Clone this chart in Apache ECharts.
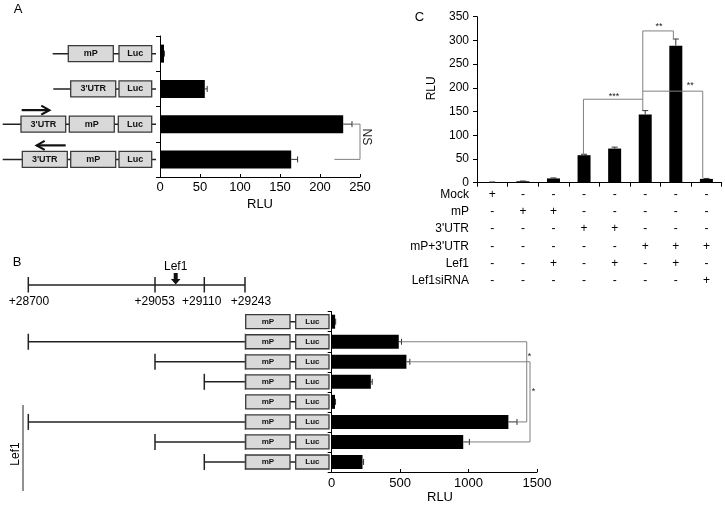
<!DOCTYPE html>
<html><head><meta charset="utf-8">
<script src="https://cdn.jsdelivr.net/npm/echarts@6/dist/echarts.min.js"></script>
<style>html,body{margin:0;padding:0;background:#fff}#c{width:725px;height:508px}</style>
</head><body><div id="c"></div>
<script>
// ---------------- DATA ----------------
// Panel A
const catsA = ['mP-Luc', "3'UTR-Luc", "3'UTR(sense)-mP-Luc", "3'UTR(antisense)-mP-Luc"];
const valuesA = [5, 56, 229, 164];
const errorsA = [0.5, 3, 11, 8];
const ticksA = [0, 50, 100, 150, 200, 250];
const constructsA = [['mP', 'Luc'], ["3'UTR", 'Luc'], ["3'UTR", 'mP', 'Luc'], ["3'UTR", 'mP', 'Luc']];
const arrowsA = [0, 0, 1, -1];              // 1 = sense, -1 = antisense
const bracketsA = [{ pts: [[240, 2], [250, 2], [250, 3], [218, 3]], label: 'NS', at: [258, 2.36], rot: -Math.PI / 2 }];

// Panel B
const catsB = ['b1', 'b2', 'b3', 'b4', 'b5', 'b6', 'b7', 'b8'];
const valuesB = [25, 490, 546, 286, 24, 1291, 961, 225];
const errorsB = [4, 20, 25, 10, 4, 63, 45, 8];
const ticksB = [0, 500, 1000, 1500];
const scaleLabelsB = ['+28700', '+29053', '+29110', '+29243'];
const startsB = [-1, 0, 1, 2, -1, 0, 1, 2];  // index into scaleLabelsB, -1 = promoter only
const bracketsB = [
  { pts: [[510, 1], [1425, 1], [1425, 5], [1355, 5]], label: '*', at: [1445, 1.72] },
  { pts: [[572, 2], [1449, 2], [1449, 6], [1007, 6]], label: '*', at: [1474, 3.5] }
];

// Panel C
const catsC = ['c1', 'c2', 'c3', 'c4', 'c5', 'c6', 'c7', 'c8'];
const valuesC = [1, 3, 9, 58, 72, 144, 289, 8];
const errorsC = [0.5, 0.5, 1, 2, 3, 8, 14, 1];
const ticksC = [0, 50, 100, 150, 200, 250, 300, 350];
const rowNamesC = ['Mock', 'mP', "3'UTR", "mP+3'UTR", 'Lef1', 'Lef1siRNA'];
const tableC = [
  ['+', '-', '-', '-', '-', '-', '-', '-'],
  ['-', '+', '+', '-', '-', '-', '-', '-'],
  ['-', '-', '-', '+', '+', '-', '-', '-'],
  ['-', '-', '-', '-', '-', '+', '+', '+'],
  ['-', '-', '+', '-', '+', '-', '+', '-'],
  ['-', '-', '-', '-', '-', '-', '-', '+']
];
const bracketsC = [
  { pts: [[2.98, 58], [2.98, 176], [4.92, 176]], label: '***', at: [3.98, 182] },
  { pts: [[4.92, 153], [4.92, 320], [5.92, 320], [5.92, 304]], label: '**', at: [5.45, 330] },
  { pts: [[4.92, 193], [6.88, 193], [6.88, 9]], label: '**', at: [6.47, 205] }
];

// ---------------- LAYOUT ----------------
const FONT = '"Liberation Sans", Arial, sans-serif';
const G = {
  A: { left: 160, top: 36, width: 200, height: 141 },
  B: { left: 331.7, top: 311.7, width: 205.3, height: 160.3 },
  C: { left: 477, top: 16.7, width: 244.7, height: 166 }
};
// pixel layouts of the schematic constructs of panel A
const layoutA = [
  { start: 52.7, boxes: [[68.3, 113.3], [119, 151.7]] },
  { start: 53.3, boxes: [[70.7, 115.7], [119, 151.7]] },
  { start: 2.7, boxes: [[21, 65.7], [69.3, 114.3], [118.3, 151.7]] },
  { start: 2.7, boxes: [[22.3, 67.3], [70.7, 115.7], [119, 151.7]] }
];
const arrowLayoutA = { right: [21.7, 49.3], left: [65.7, 36.7], dy: -14 };
const scaleXB = [28.3, 155, 204.3, 245];
const scaleLabelXB = [29, 154.7, 201.7, 251];
const boxesB = [[245.7, 290, 'mP'], [295.7, 329, 'Luc']];

function catPos(api, xv, yv, catDim) {
  if (catDim === 0) {
    const i = Math.floor(xv), f = xv - i;
    const p = api.coord([i, yv]);
    return [p[0] + f * api.size([1, 0])[0], p[1]];
  } else {
    const i = Math.floor(yv), f = yv - i;
    const p = api.coord([xv, i]);
    return [p[0], p[1] + f * api.size([0, 1])[1]];
  }
}

function bracketSeries(brackets, xi, yi, catDim, color, font) {
  return {
    type: 'custom', xAxisIndex: xi, yAxisIndex: yi, silent: true, z: 5,
    data: brackets.map(() => [0, 0]),
    renderItem(params, api) {
      const b = brackets[params.dataIndex];
      const pts = b.pts.map(p => catPos(api, p[0], p[1], catDim));
      const lp = catPos(api, b.at[0], b.at[1], catDim);
      return { type: 'group', children: [
        { type: 'polyline', shape: { points: pts }, style: { stroke: color, lineWidth: 1, fill: null } },
        { type: 'text', x: lp[0], y: lp[1], rotation: b.rot || 0,
          style: { text: b.label, fill: '#222', font: font, align: 'center', verticalAlign: 'middle' } }
      ] };
    }
  };
}

function errSeries(values, errors, xi, yi, horizontal) {
  return {
    type: 'custom', xAxisIndex: xi, yAxisIndex: yi, silent: true, z: 4,
    data: values.map((v, i) => horizontal ? [v, i, errors[i]] : [i, v, errors[i]]),
    renderItem(params, api) {
      const e = api.value(2);
      let a, b, cap;
      if (horizontal) {
        const v = api.value(0), i = api.value(1);
        a = api.coord([v, i]); b = api.coord([v + e, i]);
        cap = { x1: b[0], y1: b[1] - 3, x2: b[0], y2: b[1] + 3 };
      } else {
        const i = api.value(0), v = api.value(1);
        a = api.coord([i, v]); b = api.coord([i, v + e]);
        cap = { x1: b[0] - 3, y1: b[1], x2: b[0] + 3, y2: b[1] };
      }
      const st = { stroke: '#333', lineWidth: 1 };
      return { type: 'group', children: [
        { type: 'line', shape: { x1: a[0], y1: a[1], x2: b[0], y2: b[1] }, style: st },
        { type: 'line', shape: cap, style: st }
      ] };
    }
  };
}

function box(x1, x2, y, h, label, fs) {
  return [
    { type: 'rect', shape: { x: x1, y: y - h / 2, width: x2 - x1, height: h },
      style: { fill: '#d9d9d9', stroke: '#3a3a3a', lineWidth: 1.3 } },
    { type: 'text', x: (x1 + x2) / 2, y: y,
      style: { text: label, fill: '#111', font: 'bold ' + fs + 'px ' + FONT, align: 'center', verticalAlign: 'middle' } }
  ];
}

const constructSeriesA = {
  type: 'custom', xAxisIndex: 0, yAxisIndex: 0, silent: true, z: 3,
  data: constructsA.map((c, i) => [0, i]),
  renderItem(params, api) {
    const i = params.dataIndex;
    const y = api.coord([0, i])[1];
    const lay = layoutA[i];
    const ch = [{ type: 'line', shape: { x1: lay.start, y1: y, x2: G.A.left - 4, y2: y }, style: { stroke: '#222', lineWidth: 1.5 } }];
    constructsA[i].forEach((lab, k) => { ch.push(...box(lay.boxes[k][0], lay.boxes[k][1], y, 16, lab, 9)); });
    if (arrowsA[i] !== 0) {
      const r = arrowsA[i] > 0 ? arrowLayoutA.right : arrowLayoutA.left;
      const ay = y + arrowLayoutA.dy;
      const dir = Math.sign(r[1] - r[0]);
      ch.push({ type: 'line', shape: { x1: r[0], y1: ay, x2: r[1], y2: ay }, style: { stroke: '#111', lineWidth: 2.2 } });
      ch.push({ type: 'polyline', shape: { points: [[r[1] - dir * 8, ay - 4.5], [r[1], ay], [r[1] - dir * 8, ay + 4.5]] },
        style: { stroke: '#111', lineWidth: 2.2, fill: null } });
    }
    return { type: 'group', children: ch };
  }
};

const constructSeriesB = {
  type: 'custom', xAxisIndex: 1, yAxisIndex: 1, silent: true, z: 3,
  data: startsB.map((s, i) => [0, i]),
  renderItem(params, api) {
    const i = params.dataIndex;
    const y = api.coord([0, i])[1];
    const s = startsB[i];
    const x0 = s >= 0 ? scaleXB[s] : boxesB[0][0];
    const ch = [{ type: 'line', shape: { x1: x0, y1: y, x2: G.B.left - 3, y2: y }, style: { stroke: '#222', lineWidth: 1.5 } }];
    if (s >= 0) {
      ch.push({ type: 'line', shape: { x1: x0, y1: y - 8, x2: x0, y2: y + 8 }, style: { stroke: '#222', lineWidth: 1.5 } });
      ch.push({ type: 'line', shape: { x1: boxesB[0][0] - 0.5, y1: y - 8, x2: boxesB[0][0] - 0.5, y2: y + 8 }, style: { stroke: '#555', lineWidth: 1 } });
    }
    boxesB.forEach(b => ch.push(...box(b[0], b[1], y, 14, b[2], 8)));
    return { type: 'group', children: ch };
  }
};

// ---------------- STATIC GRAPHICS ----------------
const graphics = [];
function txt(x, y, t, size, opts) {
  graphics.push(Object.assign({ type: 'text', x: x, y: y,
    style: Object.assign({ text: t, fill: '#000', font: size + 'px ' + FONT, align: 'center', verticalAlign: 'middle' }, (opts && opts.style) || {}) },
    opts && opts.rotation ? { rotation: opts.rotation } : {}));
}
txt(18, 9, 'A', 13);
txt(17, 262, 'B', 13);
txt(419.5, 17, 'C', 13);
txt(260, 204, 'RLU', 13);
txt(440, 497, 'RLU', 13);
txt(431.7, 88.3, 'RLU', 12, { rotation: Math.PI / 2 });
rowNamesC.forEach((n, r) => txt(469, 194.4 + 17.3 * r, n, 12, { style: { align: 'right' } }));
// genomic scale of panel B
graphics.push({ type: 'line', shape: { x1: scaleXB[0], y1: 285, x2: scaleXB[3], y2: 285 }, style: { stroke: '#222', lineWidth: 1.5 } });
scaleXB.forEach((x, k) => {
  graphics.push({ type: 'line', shape: { x1: x, y1: 277, x2: x, y2: 292.5 }, style: { stroke: '#222', lineWidth: 1.5 } });
  txt(scaleLabelXB[k], 301.7, scaleLabelsB[k], 12);
});
txt(175.7, 266.5, 'Lef1', 12);
graphics.push({ type: 'polygon', shape: { points: [[173.7, 273], [177.7, 273], [177.7, 279], [180.5, 279], [175.7, 284.5], [170.9, 279], [173.7, 279]] }, style: { fill: '#111' } });
// Lef1 group in panel B
txt(16, 454, 'Lef1', 12, { rotation: Math.PI / 2 });
graphics.push({ type: 'line', shape: { x1: 23, y1: 405, x2: 23, y2: 491 }, style: { stroke: '#222', lineWidth: 1 } });

// ---------------- CHART ----------------
const axisLine = { show: true, lineStyle: { color: '#000', width: 1 } };
const lbl = (fs, m) => ({ color: '#000', fontSize: fs, fontFamily: FONT, margin: m, formatter: v => String(v) });
const chart = echarts.init(document.getElementById('c'), null, { renderer: 'canvas' });
chart.setOption({
  animation: false,
  backgroundColor: '#fff',
  grid: [
    Object.assign({ outerBoundsMode: 'none', containLabel: false }, G.A),
    Object.assign({ outerBoundsMode: 'none', containLabel: false }, G.B),
    Object.assign({ outerBoundsMode: 'none', containLabel: false }, G.C)
  ],
  xAxis: [
    { gridIndex: 0, type: 'value', min: ticksA[0], max: ticksA[ticksA.length - 1], interval: ticksA[1] - ticksA[0],
      axisLine, axisTick: { show: true, inside: true, length: 3, lineStyle: { color: '#000' } }, splitLine: { show: false },
      axisLabel: lbl(13, 4) },
    { gridIndex: 1, type: 'value', min: ticksB[0], max: ticksB[ticksB.length - 1], interval: ticksB[1] - ticksB[0],
      axisLine, axisTick: { show: true, inside: true, length: 3, lineStyle: { color: '#000' } }, splitLine: { show: false },
      axisLabel: lbl(13, 5) },
    { gridIndex: 2, type: 'category', data: catsC,
      axisLine, axisTick: { show: true, length: 4, lineStyle: { color: '#000' } },
      axisLabel: Object.assign(lbl(12, 3), { interval: 0, lineHeight: 17.3,
        formatter: (v, idx) => tableC.map(r => r[idx]).join('\n') }) }
  ],
  yAxis: [
    { gridIndex: 0, type: 'category', data: catsA, inverse: true, axisLine,
      axisTick: { show: true, length: 4, lineStyle: { color: '#000' } }, axisLabel: { show: false } },
    { gridIndex: 1, type: 'category', data: catsB, inverse: true, axisLine,
      axisTick: { show: true, length: 4, lineStyle: { color: '#000' } }, axisLabel: { show: false } },
    { gridIndex: 2, type: 'value', min: ticksC[0], max: ticksC[ticksC.length - 1], interval: ticksC[1] - ticksC[0],
      axisLine, axisTick: { show: true, length: 4, lineStyle: { color: '#000' } }, splitLine: { show: false },
      axisLabel: lbl(12, 8) }
  ],
  series: [
    { type: 'bar', xAxisIndex: 0, yAxisIndex: 0, data: valuesA, barWidth: 18, itemStyle: { color: '#000' }, silent: true },
    { type: 'bar', xAxisIndex: 1, yAxisIndex: 1, data: valuesB, barWidth: 14, itemStyle: { color: '#000' }, silent: true },
    { type: 'bar', xAxisIndex: 2, yAxisIndex: 2, data: valuesC, barWidth: 13, itemStyle: { color: '#000' }, silent: true },
    errSeries(valuesA, errorsA, 0, 0, true),
    errSeries(valuesB, errorsB, 1, 1, true),
    errSeries(valuesC, errorsC, 2, 2, false),
    bracketSeries(bracketsA, 0, 0, 1, '#808080', '12px ' + FONT),
    bracketSeries(bracketsB, 1, 1, 1, '#808080', '9px ' + FONT),
    bracketSeries(bracketsC, 2, 2, 0, '#808080', '9px ' + FONT),
    constructSeriesA,
    constructSeriesB
  ],
  graphic: graphics
});
</script>
</body></html>
